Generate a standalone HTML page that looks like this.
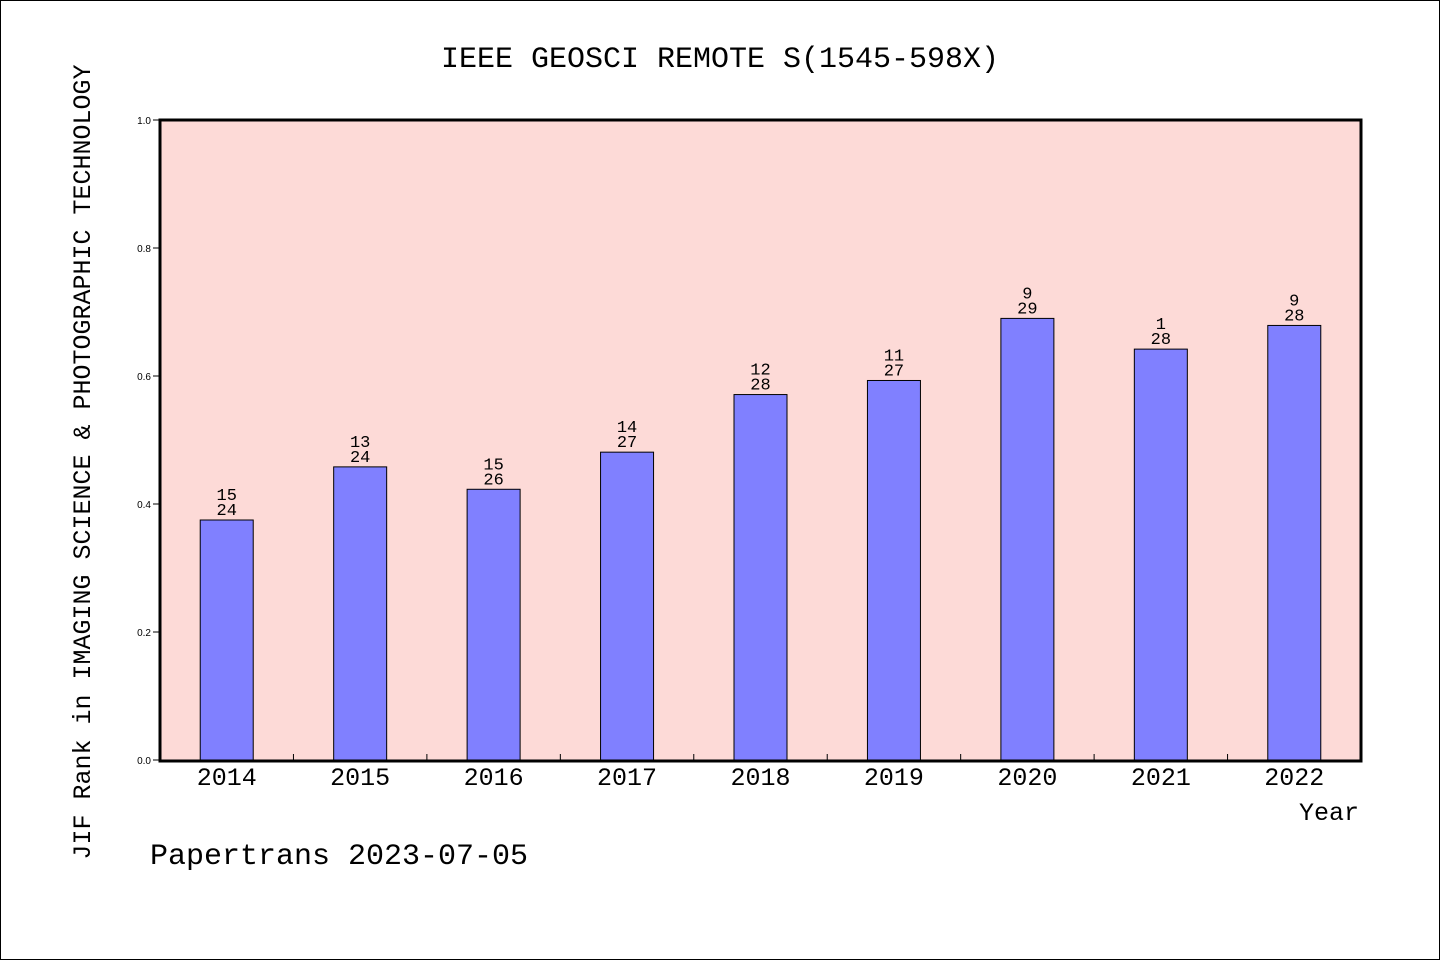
<!DOCTYPE html>
<html><head><meta charset="utf-8"><style>
body{margin:0;background:#fff}
svg{display:block;font-family:"Liberation Mono","DejaVu Sans Mono",monospace}
</style></head><body>
<svg width="1440" height="960">
<rect x="0.5" y="0.5" width="1439" height="959" fill="#fff" stroke="#000"/>
<text x="720" y="67" text-anchor="middle" font-size="30">IEEE GEOSCI REMOTE S(1545-598X)</text>
<rect x="160" y="120" width="1201" height="641" fill="#fddad7"/>
<g id="ticks"></g>
<g id="bars"></g>
<rect x="160" y="120" width="1201" height="641" fill="none" stroke="#000" stroke-width="3"/>
<text transform="translate(90,462) rotate(-90)" text-anchor="middle" font-size="25">JIF Rank in IMAGING SCIENCE &amp; PHOTOGRAPHIC TECHNOLOGY</text>
<text x="1359" y="820" text-anchor="end" font-size="25">Year</text>
<text x="150" y="864" font-size="30">Papertrans 2023-07-05</text>
</svg>
<script>
const years=["2014","2015","2016","2017","2018","2019","2020","2021","2022"];
const values=[0.375,0.458,0.423,0.481,0.571,0.593,0.690,0.642,0.679];
const ranks=["15","13","15","14","12","11","9","1","9"];
const totals=["24","24","26","27","28","27","29","28","28"];
const yTicks=[0,0.2,0.4,0.6,0.8,1.0];
const NS="http://www.w3.org/2000/svg";
const X0=160,X1=1361,Y0=760,Y1=120;
const step=(X1-X0)/years.length;
const y=v=>Y0-(Y0-Y1)*v;
const xc=i=>X0+step*(i+0.5);
function mk(t,a,p,txt){const e=document.createElementNS(NS,t);for(const k in a)e.setAttribute(k,a[k]);if(txt!==undefined)e.textContent=txt;p.appendChild(e);return e;}
const tg=document.getElementById('ticks'),bg=document.getElementById('bars');
yTicks.forEach(v=>{
 const l=mk('line',{x1:153,x2:160,y1:y(v),y2:y(v),stroke:'#000'},tg);
 
 
 const t=mk('text',{x:151,y:y(v)+4,'text-anchor':'end','font-size':10,'font-family':'Liberation Sans, sans-serif'},tg,v.toFixed(1));
 
 
});
for(let i=1;i<years.length;i++){
 const l=mk('line',{x1:X0+step*i,x2:X0+step*i,y1:Y0,y2:Y0-6,stroke:'#000'},tg);
 
 
}
years.forEach((yr,i)=>{
 const w=53,top=y(values[i]);
 const r=mk('rect',{x:xc(i)-w/2,y:top,width:w,height:Y0-top,fill:'#8080ff',stroke:'#000','stroke-width':1},bg);
 
 
 const a=mk('text',{x:xc(i),y:top-20,'text-anchor':'middle','font-size':17},bg,ranks[i]);
 
 
 const b=mk('text',{x:xc(i),y:top-5,'text-anchor':'middle','font-size':17},bg,totals[i]);
 
 
 const c=mk('text',{x:xc(i),y:785,'text-anchor':'middle','font-size':25},bg,yr);
 
 
});
</script>
</body></html>
